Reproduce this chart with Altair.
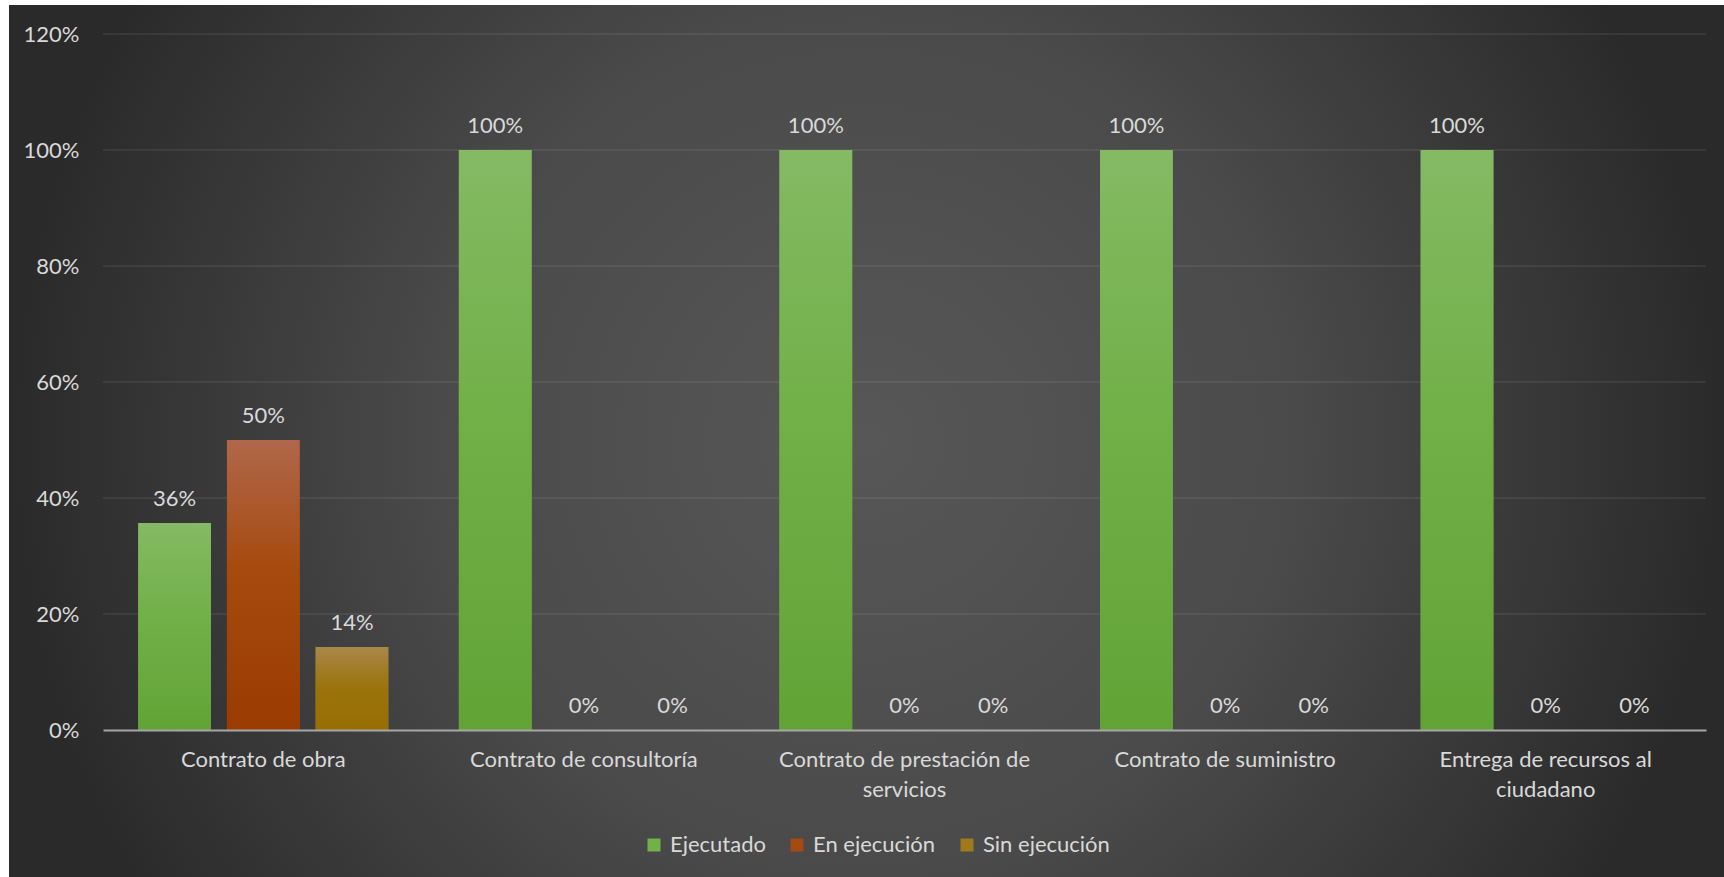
import altair as alt
import pandas as pd

categories = [
    "Contrato de obra",
    "Contrato de consultoría",
    "Contrato de prestación de servicios",
    "Contrato de suministro",
    "Entrega de recursos al ciudadano",
]
wrapped = {
    "Contrato de prestación de servicios": ["Contrato de prestación de", "servicios"],
    "Entrega de recursos al ciudadano": ["Entrega de recursos al", "ciudadano"],
}
series = ["Ejecutado", "En ejecución", "Sin ejecución"]
ejecutado = [0.357, 1.0, 1.0, 1.0, 1.0]
en_ejecucion = [0.50, 0.0, 0.0, 0.0, 0.0]
sin_ejecucion = [0.143, 0.0, 0.0, 0.0, 0.0]
y_ticks = [0, 0.2, 0.4, 0.6, 0.8, 1.0, 1.2]

solid = ["#72b048", "#a54a10", "#a07a1a"]
gradients = {
    "Ejecutado": ["#84ba64", "#72b048", "#62a336"],
    "En ejecución": ["#b0674a", "#a64a0e", "#9a3c02"],
    "Sin ejecución": ["#a8884a", "#9c7410", "#966e00"],
}

rows = []
for vals, s in zip([ejecutado, en_ejecucion, sin_ejecucion], series):
    for c, v in zip(categories, vals):
        rows.append({"category": c, "series": s, "value": v})
df = pd.DataFrame(rows)

W, H = 1603, 696
PL, PT, PR, PB = 103, 34, 18, 147
TXT = "#d9d9d9"
FS = 22

label_expr = ""
for k, lines in wrapped.items():
    label_expr += "datum.label == '%s' ? [%s] : " % (k, ", ".join("'%s'" % l for l in lines))
label_expr += "datum.label"

x_enc = alt.X(
    "category:N",
    sort=categories,
    scale=alt.Scale(paddingInner=0.22, paddingOuter=0.11),
    axis=alt.Axis(
        title=None, labelAngle=0, ticks=False, domainColor="#a6a6a6", domainWidth=2,
        labelFontSize=FS, labelColor=TXT, labelPadding=19, labelLineHeight=30,
        labelLimit=500, labelExpr=label_expr, zindex=1,
    ),
)
xoff_enc = alt.XOffset(
    "series:N", sort=series,
    scale=alt.Scale(domain=series, paddingInner=0.18, paddingOuter=0),
)
y_axis = alt.Axis(
    title=None, values=y_ticks, format=".0%", grid=False, ticks=False, domain=False,
    labelFontSize=FS, labelColor=TXT, labelPadding=24, zindex=1,
)
y_scale = alt.Scale(domain=[0, 1.2], nice=False)

bg = alt.Chart(pd.DataFrame({"a": [0]})).mark_rect(
    color={
        "gradient": "radial",
        "x1": 0.5, "y1": 0.5, "r1": 0,
        "x2": 0.5, "y2": 0.5, "r2": 0.5,
        "stops": [
            {"offset": 0, "color": "#575757"},
            {"offset": 0.5, "color": "#4a4a4a"},
            {"offset": 1, "color": "#2a2a2a"},
        ],
    }
).encode(
    x=alt.value(-94), x2=alt.value(1621), y=alt.value(-450), y2=alt.value(1265)
)

white_left = alt.Chart(pd.DataFrame({"a": [0]})).mark_rect(color="#ffffff").encode(
    x=alt.value(-PL), x2=alt.value(-94), y=alt.value(-PT), y2=alt.value(H + PB)
)
white_top = alt.Chart(pd.DataFrame({"a": [0]})).mark_rect(color="#ffffff").encode(
    x=alt.value(-PL), x2=alt.value(W + PR), y=alt.value(-PT), y2=alt.value(-29)
)

grid = alt.Chart(pd.DataFrame({"value": y_ticks[1:]})).mark_rule(
    color="#ffffff", opacity=0.09, strokeWidth=1.5
).encode(
    y=alt.Y("value:Q", scale=y_scale, axis=y_axis),
    x=alt.value(0), x2=alt.value(W),
)

base = alt.Chart(df).encode(
    x=x_enc,
    xOffset=xoff_enc,
    y=alt.Y("value:Q", scale=y_scale, axis=y_axis),
)

bars = base.mark_bar().encode(
    color=alt.Color(
        "series:N",
        scale=alt.Scale(domain=series, range=solid),
        legend=alt.Legend(
            title=None, orient="none", legendX=540, legendY=800, direction="horizontal",
            symbolType="square", symbolSize=169, symbolStrokeWidth=0,
            labelFontSize=FS, labelColor=TXT, labelOffset=5, columnPadding=20,
        ),
    )
)

overlays = []
for s in series:
    g = gradients[s]
    overlays.append(
        base.transform_filter(alt.datum.series == s).mark_bar(
            color={
                "gradient": "linear", "x1": 0, "y1": 0, "x2": 0, "y2": 1,
                "stops": [
                    {"offset": 0, "color": g[0]},
                    {"offset": 0.45, "color": g[1]},
                    {"offset": 1, "color": g[2]},
                ],
            }
        )
    )

labels = base.mark_text(
    color=TXT, fontSize=FS, baseline="alphabetic", dy=-17
).encode(text=alt.Text("value:Q", format=".0%"))

chart = alt.layer(bg, white_left, white_top, grid, bars, *overlays, labels).properties(
    width=W, height=H,
    autosize=alt.AutoSizeParams(type="none"),
    padding={"left": PL, "top": PT, "right": PR, "bottom": PB},
    background="#ffffff",
).configure(font="Lato").configure_view(stroke=None)

chart.save("out.html", embed_options={"renderer": "svg", "actions": False})
